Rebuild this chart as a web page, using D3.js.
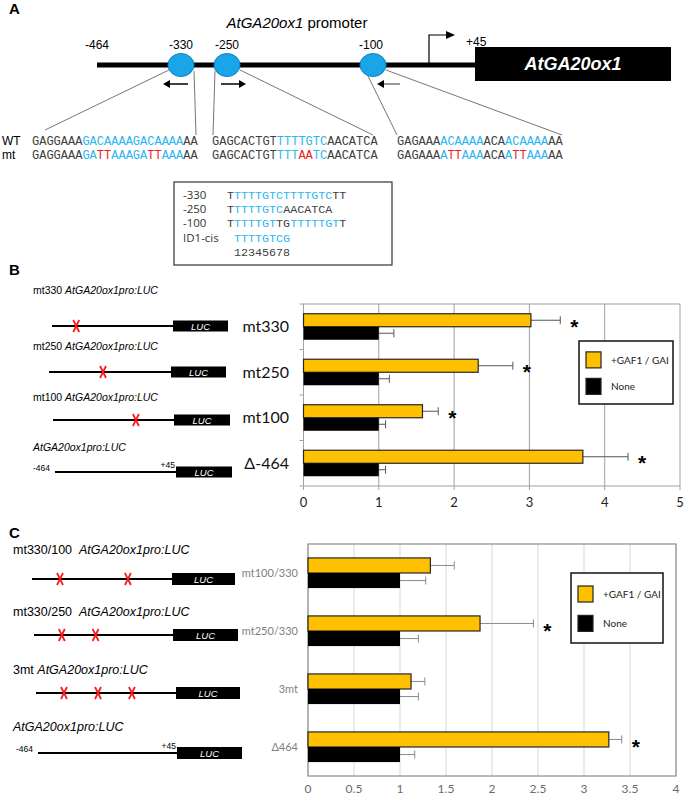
<!DOCTYPE html>
<html>
<head>
<meta charset="utf-8">
<script src="https://cdn.jsdelivr.net/npm/d3@7"></script>
<style>
body { margin: 0; background: #fff; }
svg { display: block; }
</style>
</head>
<body>
<div id="fig"></div>
<script>
// ---- data ----
var bCats = ["mt330", "mt250", "mt100", "\u0394-464"];
var bGaf = [3.02, 2.32, 1.58, 3.71];
var bGafErr = [0.39, 0.46, 0.21, 0.60];
var bNone = [1, 1, 1, 1];
var bNoneErr = [0.20, 0.14, 0.09, 0.09];
var bSig = [true, true, true, true];
var bTicks = [0, 1, 2, 3, 4, 5];

var cCats = ["mt100/330", "mt250/330", "3mt", "\u0394464"];
var cGaf = [1.33, 1.87, 1.12, 3.27];
var cGafErr = [0.26, 0.58, 0.15, 0.14];
var cNone = [1, 1, 1, 1];
var cNoneErr = [0.28, 0.20, 0.20, 0.16];
var cSig = [false, true, false, true];
var cTicks = [0, 0.5, 1, 1.5, 2, 2.5, 3, 3.5, 4];

var legendNames = ["+GAF1 / GAI", "None"];

// promoter sites (panel A)
var sites = [-330, -250, -100];
var siteLabels = ["-464", "-330", "-250", "-100"];

// sequences: [text, colour key]
var seqWT = [
    [["GAGGAAA", "k"], ["GACAAAAGACAAAA", "b"], ["AA", "k"]],
    [["GAGCACTGT", "k"], ["TTTTGTC", "b"], ["AACATCA", "k"]],
    [["GAGAAA", "k"], ["ACAAAA", "b"], ["ACA", "k"], ["ACAAAA", "b"], ["AA", "k"]]
];
var seqMT = [
    [["GAGGAAA", "k"], ["GA", "b"], ["TT", "r"], ["AAAGA", "b"], ["TT", "r"], ["AAA", "b"], ["AA", "k"]],
    [["GAGCACTGT", "k"], ["TTT", "b"], ["AA", "r"], ["TC", "b"], ["AACATCA", "k"]],
    [["GAGAAA", "k"], ["A", "b"], ["TT", "r"], ["AAA", "b"], ["ACA", "k"], ["A", "b"], ["TT", "r"], ["AAA", "b"], ["AA", "k"]]
];
var motifNames = ["-330", "-250", "-100", "ID1-cis", ""];
var motifSeqs = [
    [["T", "k"], ["TTTTGTCTTTTGTC", "b"], ["TT", "k"]],
    [["T", "k"], ["TTTTGTC", "b"], ["AACATCA", "k"]],
    [["T", "k"], ["TTTTGT", "b"], ["TG", "k"], ["TTTTTGT", "b"], ["T", "k"]],
    [[" ", "k"], ["TTTTGTCG", "b"]],
    [[" 12345678", "k"]]
];

// constructs
var bConstructs = [
    {pre: "mt330 ", muts: [-330]},
    {pre: "mt250 ", muts: [-250]},
    {pre: "mt100 ", muts: [-100]},
    {pre: "", muts: [], ends: true}
];
var cConstructs = [
    {pre: "mt330/100  ", muts: [-330, -100]},
    {pre: "mt330/250  ", muts: [-330, -250]},
    {pre: "3mt ", muts: [-330, -250, -100]},
    {pre: "", muts: [], ends: true}
];

var colors = {k: "#404040", b: "#2cb5ee", r: "#ee2020"};
var YELLOW = "#ffc000";

var svg = d3.select("#fig").append("svg")
    .attr("width", 685).attr("height", 797)
    .style("font-family", "'Liberation Sans', Arial, sans-serif");

function seqText(g, x, y, parts, size) {
    var t = g.append("text").attr("x", x).attr("y", y)
        .style("font-family", "'Liberation Mono', monospace")
        .style("font-size", size + "px")
        .attr("xml:space", "preserve");
    parts.forEach(function(p) {
        t.append("tspan").attr("fill", colors[p[1]]).text(p[0]);
    });
}

function panelLetter(x, y, s) {
    svg.append("text").attr("x", x).attr("y", y)
        .style("font-size", "15px").style("font-weight", "bold").text(s);
}

// ---- panel A ----
function drawPanelA() {
    panelLetter(9, 14, "A");
    var t = svg.append("text").attr("x", 297).attr("y", 28)
        .attr("text-anchor", "middle").style("font-size", "15px");
    t.append("tspan").style("font-style", "italic").text("AtGA20ox1");
    t.append("tspan").text(" promoter");

    var px = d3.scaleLinear().domain([-464, -330, -250, -100, 45])
        .range([97, 181, 227, 373, 475]);

    svg.append("line").attr("x1", 97).attr("x2", 475).attr("y1", 65).attr("y2", 65)
        .attr("stroke", "#000").attr("stroke-width", 5);
    svg.append("rect").attr("x", 475).attr("y", 47).attr("width", 196).attr("height", 34)
        .attr("fill", "#000");
    svg.append("text").attr("x", 573).attr("y", 70).attr("text-anchor", "middle")
        .attr("fill", "#fff").style("font-size", "18px").style("font-weight", "bold")
        .style("font-style", "italic").text("AtGA20ox1");

    svg.selectAll(".poslab").data(siteLabels).join("text")
        .attr("x", function(d) { return px(+d) + (d == "-100" ? -2 : 0); })
        .attr("y", 49).attr("text-anchor", "middle").style("font-size", "12px")
        .text(function(d) { return d; });
    svg.append("text").attr("x", 466).attr("y", 46).style("font-size", "12px").text("+45");

    // transcription start arrow
    svg.append("path").attr("d", "M429,63 V35 H448").attr("fill", "none")
        .attr("stroke", "#000").attr("stroke-width", 1.2);
    svg.append("path").attr("d", "M446,31 L455,35 L446,39 Z").attr("fill", "#000");

    // lines to sequences
    var fan = [[169, 70, 45, 130], [194, 71, 196, 135], [215, 71, 213, 135],
               [240, 70, 373, 135], [366, 72, 397, 135], [386, 70, 562, 135]];
    svg.selectAll(".fan").data(fan).join("line")
        .attr("x1", function(d) { return d[0]; }).attr("y1", function(d) { return d[1]; })
        .attr("x2", function(d) { return d[2]; }).attr("y2", function(d) { return d[3]; })
        .attr("stroke", "#666").attr("stroke-width", 0.9);

    svg.selectAll(".site").data(sites).join("ellipse")
        .attr("cx", function(d) { return px(d); }).attr("cy", 65)
        .attr("rx", 13).attr("ry", 11.5)
        .attr("fill", "#19a6e9").attr("stroke", "#0f86c4").attr("stroke-width", 1);

    // orientation arrows
    var arrows = [[188, 163], [221, 246], [400, 377]];
    arrows.forEach(function(a, i) {
        var dir = a[1] > a[0] ? 1 : -1;
        svg.append("line").attr("x1", a[0]).attr("x2", a[1] - dir * 5).attr("y1", 84).attr("y2", 84)
            .attr("stroke", i == 2 ? "#777" : "#000").attr("stroke-width", 1.5);
        svg.append("path").attr("d", "M" + a[1] + ",84 L" + (a[1] - dir * 7) + ",80 L" + (a[1] - dir * 7) + ",88 Z")
            .attr("fill", "#000");
    });

    svg.append("text").attr("x", 2).attr("y", 145).style("font-size", "12px").text("WT");
    svg.append("text").attr("x", 2).attr("y", 159).style("font-size", "12px").text("mt");
    var sx = [32, 212, 397];
    seqWT.forEach(function(s, i) { seqText(svg, sx[i], 145, s, 12); });
    seqMT.forEach(function(s, i) { seqText(svg, sx[i], 159, s, 12); });

    // motif box
    svg.append("rect").attr("x", 174).attr("y", 182).attr("width", 218).attr("height", 83)
        .attr("fill", "#fff").attr("stroke", "#333").attr("stroke-width", 1.2);
    motifNames.forEach(function(n, i) {
        var y = 199 + i * 14.2;
        svg.append("text").attr("x", 183).attr("y", y).style("font-size", "11.5px")
            .attr("fill", "#333").style("font-family", "'Open Sans', sans-serif").text(n);
        seqText(svg, 227, y, motifSeqs[i], 11.7);
    });
}

// ---- construct diagrams ----
function drawConstructs(list, rows, fontSize) {
    var frac = d3.scaleLinear().domain([-464, -330, -250, -100, 45])
        .range([0, 0.2, 0.443, 0.685, 1]);
    list.forEach(function(c, i) {
        var r = rows[i];
        var t = svg.append("text").attr("x", r.tx).attr("y", r.ty).style("font-size", fontSize + "px")
            .attr("xml:space", "preserve");
        t.append("tspan").text(c.pre);
        t.append("tspan").style("font-style", "italic").text("AtGA20ox1pro:LUC");
        var xs = d3.scaleLinear().domain([0, 1]).range([r.x0, r.x1]);
        svg.append("line").attr("x1", r.x0).attr("x2", r.x1).attr("y1", r.y).attr("y2", r.y)
            .attr("stroke", "#000").attr("stroke-width", 2);
        svg.append("rect").attr("x", r.x1).attr("y", r.y - r.h / 2).attr("width", r.w).attr("height", r.h)
            .attr("fill", "#000");
        svg.append("text").attr("x", r.x1 + r.w / 2).attr("y", r.y + 3.5).attr("text-anchor", "middle")
            .attr("fill", "#fff").style("font-size", "9.5px").style("font-style", "italic").text("LUC");
        c.muts.forEach(function(m) {
            var x = xs(frac(m));
            svg.append("path").attr("d", "M" + (x - 3) + "," + (r.y - 6) + " L" + (x + 3) + "," + (r.y + 6) +
                " M" + (x + 3) + "," + (r.y - 6) + " L" + (x - 3) + "," + (r.y + 6))
                .attr("stroke", "#ff1a1a").attr("stroke-width", 1.8);
        });
        if (c.ends) {
            svg.append("text").attr("x", r.x0 - 5).attr("y", r.y - 1).attr("text-anchor", "end")
                .style("font-size", "8.5px").text("-464");
            svg.append("text").attr("x", r.x1 - 1).attr("y", r.y - 4).attr("text-anchor", "end")
                .style("font-size", "8.5px").text("+45");
        }
    });
}

// ---- bar charts ----
function barChart(cfg) {
    var x = d3.scaleLinear().domain([0, cfg.max]).range([cfg.left, cfg.right]);
    var y = d3.scaleBand().domain(cfg.cats).range([cfg.top, cfg.bottom]);
    var bh = y.bandwidth() * cfg.barFrac;
    var g = svg.append("g");

    g.selectAll(".grid").data(cfg.ticks).join("line")
        .attr("x1", function(d) { return x(d); }).attr("x2", function(d) { return x(d); })
        .attr("y1", cfg.top).attr("y2", cfg.bottom + cfg.tickOut)
        .attr("stroke", cfg.gridColor).attr("stroke-width", 1);
    if (cfg.frame) {
        g.append("rect").attr("x", cfg.left).attr("y", cfg.top)
            .attr("width", cfg.right - cfg.left).attr("height", cfg.bottom - cfg.top)
            .attr("fill", "none").attr("stroke", cfg.frame).attr("stroke-width", 1.2);
    } else {
        g.append("line").attr("x1", cfg.left - 4).attr("x2", cfg.right).attr("y1", cfg.top).attr("y2", cfg.top)
            .attr("stroke", cfg.gridColor);
        g.append("line").attr("x1", cfg.left - 4).attr("x2", cfg.right).attr("y1", cfg.bottom).attr("y2", cfg.bottom)
            .attr("stroke", cfg.gridColor);
        g.selectAll(".yt").data(cfg.cats.slice(1)).join("line")
            .attr("x1", cfg.left - 4).attr("x2", cfg.left)
            .attr("y1", function(d) { return y(d); }).attr("y2", function(d) { return y(d); })
            .attr("stroke", cfg.gridColor);
    }

    g.selectAll(".tl").data(cfg.ticks).join("text")
        .attr("x", function(d) { return x(d); }).attr("y", cfg.tickY)
        .attr("text-anchor", "middle").attr("fill", cfg.tickColor)
        .style("font-family", "Lato, 'Open Sans', sans-serif").style("font-size", cfg.tickSize + "px")
        .text(function(d) { return d; });

    var rows = cfg.cats.map(function(c, i) {
        return {c: c, g: cfg.gaf[i], ge: cfg.gafErr[i], n: cfg.none[i], ne: cfg.noneErr[i], s: cfg.sig[i]};
    });
    var mid = function(d) { return y(d.c) + y.bandwidth() / 2; };

    // error bars
    function err(val, e, yc) {
        g.selectAll(null).data(rows).join("line")
            .attr("x1", function(d) { return x(d[val]); }).attr("x2", function(d) { return x(d[val] + d[e]); })
            .attr("y1", yc).attr("y2", yc).attr("stroke", cfg.errColor).attr("stroke-width", 1);
        g.selectAll(null).data(rows).join("line")
            .attr("x1", function(d) { return x(d[val] + d[e]); }).attr("x2", function(d) { return x(d[val] + d[e]); })
            .attr("y1", function(d) { return yc(d) - 4; }).attr("y2", function(d) { return yc(d) + 4; })
            .attr("stroke", cfg.errColor).attr("stroke-width", 1);
    }
    err("g", "ge", function(d) { return mid(d) - bh / 2; });
    err("n", "ne", function(d) { return mid(d) + bh / 2; });

    g.selectAll(".bg").data(rows).join("rect")
        .attr("x", x(0)).attr("y", function(d) { return mid(d) - bh; })
        .attr("width", function(d) { return x(d.g) - x(0); }).attr("height", bh)
        .attr("fill", YELLOW).attr("stroke", "#262626").attr("stroke-width", 1.2);
    g.selectAll(".bn").data(rows).join("rect")
        .attr("x", x(0)).attr("y", function(d) { return mid(d); })
        .attr("width", function(d) { return x(d.n) - x(0); }).attr("height", bh)
        .attr("fill", "#000");

    g.selectAll(".star").data(rows.filter(function(d) { return d.s; })).join("text")
        .attr("x", function(d) { return x(d.g + d.ge) + 14; })
        .attr("y", function(d) { return mid(d) + 7; })
        .attr("text-anchor", "middle").style("font-size", "21px").style("font-weight", "bold")
        .text("*");

    g.selectAll(".cl").data(cfg.cats).join("text")
        .attr("x", cfg.labelX).attr("y", function(d) { return y(d) + y.bandwidth() / 2 + cfg.labelSize * 0.35; })
        .attr("text-anchor", "end").attr("fill", cfg.labelColor)
        .style("font-family", "Lato, 'Open Sans', sans-serif").style("font-size", cfg.labelSize + "px")
        .text(function(d) { return d; });

    // legend
    var L = cfg.legend;
    g.append("rect").attr("x", L.x).attr("y", L.y).attr("width", L.w).attr("height", L.h)
        .attr("fill", "#fff").attr("stroke", "#111").attr("stroke-width", 1.5);
    [YELLOW, "#000"].forEach(function(col, i) {
        var yy = L.y + L.h * (i == 0 ? 0.3 : 0.72);
        g.append("rect").attr("x", L.x + 7).attr("y", yy - 8).attr("width", 15).attr("height", 16)
            .attr("fill", col).attr("stroke", "#222").attr("stroke-width", 1.2);
        g.append("text").attr("x", L.x + 32).attr("y", yy + 4)
            .style("font-family", "Lato, 'Open Sans', sans-serif").style("font-size", "10px")
            .attr("fill", "#222").text(legendNames[i]);
    });
}

drawPanelA();

panelLetter(9, 275, "B");
drawConstructs(bConstructs, [
    {tx: 33, ty: 294, x0: 52, x1: 173, y: 326, w: 55, h: 11},
    {tx: 33, ty: 350, x0: 49, x1: 171, y: 372, w: 55, h: 11},
    {tx: 33, ty: 401, x0: 53, x1: 174, y: 420, w: 56, h: 11},
    {tx: 33, ty: 451, x0: 55, x1: 176, y: 472, w: 56, h: 11}
], 10.5);
barChart({
    cats: bCats, gaf: bGaf, gafErr: bGafErr, none: bNone, noneErr: bNoneErr, sig: bSig,
    ticks: bTicks, max: 5, left: 303.5, right: 680, top: 304, bottom: 486, barFrac: 0.286,
    gridColor: "#a0a0a0", tickOut: 4, frame: null, tickY: 507, tickColor: "#222", tickSize: 13,
    errColor: "#555", labelX: 289, labelSize: 16, labelColor: "#111",
    legend: {x: 579, y: 341, w: 94, h: 63}
});

panelLetter(9, 538, "C");
drawConstructs(cConstructs, [
    {tx: 13, ty: 554, x0: 32, x1: 172, y: 579, w: 63, h: 12},
    {tx: 13, ty: 616, x0: 34, x1: 173, y: 635, w: 65, h: 12},
    {tx: 13, ty: 674, x0: 36, x1: 176, y: 693, w: 64, h: 12},
    {tx: 13, ty: 731, x0: 38, x1: 177, y: 753, w: 65, h: 12}
], 12.5);
barChart({
    cats: cCats, gaf: cGaf, gafErr: cGafErr, none: cNone, noneErr: cNoneErr, sig: cSig,
    ticks: cTicks, max: 4, left: 308, right: 676, top: 544, bottom: 776, barFrac: 0.26,
    gridColor: "#d9d9d9", tickOut: 0, frame: "#8c8c8c", tickY: 793, tickColor: "#6b6b6b", tickSize: 12,
    errColor: "#8a8a8a", labelX: 298, labelSize: 11, labelColor: "#7f7f7f",
    legend: {x: 571, y: 573, w: 92, h: 70}
});
</script>
</body>
</html>
